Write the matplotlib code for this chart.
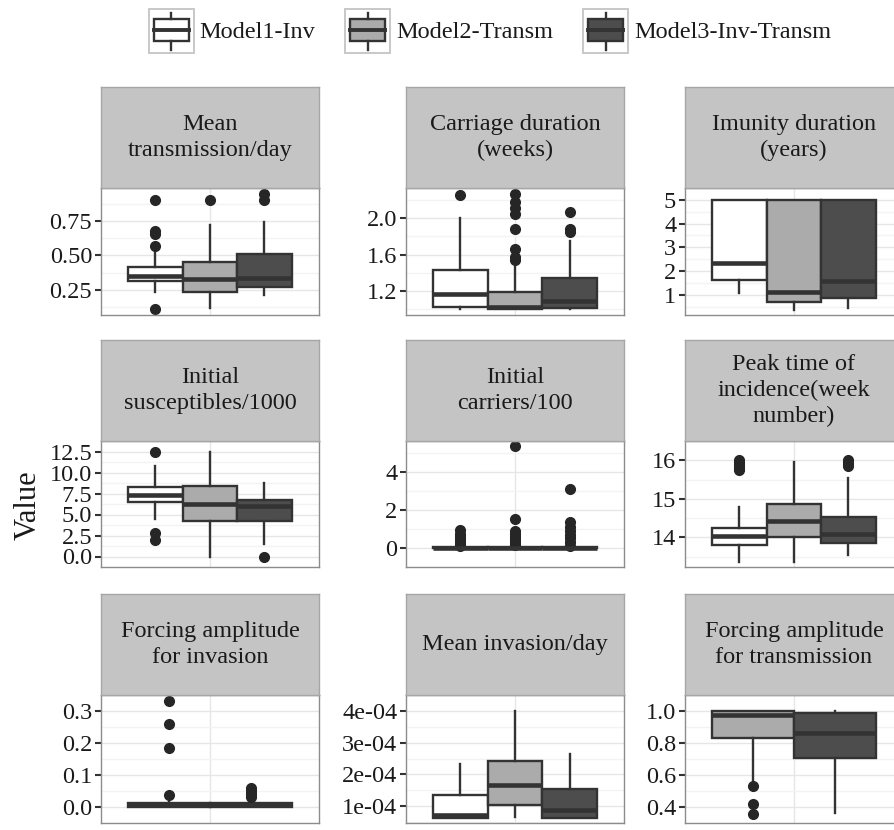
import matplotlib
matplotlib.use("Agg")
import numpy as np
import matplotlib.pyplot as plt
from matplotlib.patches import Rectangle, Patch
from matplotlib.lines import Line2D
from matplotlib.legend_handler import HandlerBase

plt.rcParams['font.family'] = ['Liberation Serif', 'DejaVu Serif']

models = ["Model1-Inv", "Model2-Transm", "Model3-Inv-Transm"]
fills = ["#FFFFFF", "#ABABAB", "#4D4D4D"]

titles = ["Mean\ntransmission/day", "Carriage duration\n(weeks)", "Imunity duration\n(years)",
          "Initial\nsusceptibles/1000", "Initial\ncarriers/100", "Peak time of\nincidence(week\nnumber)",
          "Forcing amplitude\nfor invasion", "Mean invasion/day", "Forcing amplitude\nfor transmission"]

# one row per model shown: whisker low, q1, median, q3, whisker high
trans_box = [[0.234, 0.312, 0.352, 0.416, 0.53],
             [0.119, 0.234, 0.329, 0.452, 0.721],
             [0.214, 0.274, 0.336, 0.512, 0.745]]
trans_out = [[0.109, 0.57, 0.655, 0.675, 0.90], [0.905], [0.905, 0.948]]

carr_box = [[1.0, 1.022, 1.171, 1.430, 2.006],
            [1.0, 1.004, 1.02, 1.193, 1.467],
            [1.0, 1.011, 1.086, 1.342, 1.751]]
carr_out = [[2.249], [1.545, 1.573, 1.662, 1.875, 2.043, 2.113, 2.174, 2.267], [1.85, 1.875, 2.071]]

imm_box = [[1.08, 1.63, 2.36, 5.0, 5.0],
           [0.38, 0.71, 1.10, 5.0, 5.0],
           [0.45, 0.87, 1.57, 5.0, 5.0]]
imm_out = [[], [], []]

sus_box = [[4.42, 6.48, 7.36, 8.32, 10.8],
           [0.0, 4.25, 6.30, 8.43, 12.43],
           [1.52, 4.25, 6.02, 6.76, 8.78]]
sus_out = [[1.94, 2.76, 12.43], [], [0.0]]

carriers_box = [[0.0, 0.0, 0.0, 0.04, 0.08],
                [0.0, 0.0, 0.0, 0.04, 0.08],
                [0.0, 0.0, 0.0, 0.04, 0.08]]
carriers_out = [[0.12, 0.22, 0.33, 0.45, 0.6, 0.75, 0.92],
                [0.15, 0.3, 0.45, 0.6, 0.75, 0.9, 1.53, 5.35],
                [0.12, 0.3, 0.5, 0.7, 0.9, 1.1, 1.36, 3.1]]

peak_box = [[13.36, 13.79, 14.04, 14.24, 14.79],
            [13.36, 14.02, 14.42, 14.86, 15.96],
            [13.55, 13.84, 14.08, 14.53, 15.55]]
peak_out = [[15.75, 15.8, 15.85, 15.9, 15.95, 16.0], [], [15.85, 15.9, 15.95, 16.0]]

finv_box = [[0.0, 0.001, 0.005, 0.012, 0.022],
            [0.0, 0.001, 0.006, 0.013, 0.025]]
finv_out = [[0.038, 0.185, 0.258, 0.331], [0.031, 0.038, 0.045, 0.052, 0.059]]

minv_box = [[0.64e-4, 0.64e-4, 0.73e-4, 1.36e-4, 2.34e-4],
            [0.67e-4, 1.04e-4, 1.66e-4, 2.42e-4, 4.0e-4],
            [0.64e-4, 0.64e-4, 0.88e-4, 1.53e-4, 2.64e-4]]
minv_out = [[], [], []]

ftr_box = [[0.56, 0.831, 0.975, 1.0, 1.0],
           [0.36, 0.704, 0.86, 0.985, 1.0]]
ftr_out = [[0.357, 0.419, 0.532], []]

# which models appear in each panel
all_models = [0, 1, 2]
inv_models = [0, 2]
tr_models = [1, 2]

trans_ticks, trans_labels = [0.25, 0.50, 0.75], ["0.25", "0.50", "0.75"]
carr_ticks, carr_labels = [1.2, 1.6, 2.0], ["1.2", "1.6", "2.0"]
imm_ticks, imm_labels = [1, 2, 3, 4, 5], ["1", "2", "3", "4", "5"]
sus_ticks, sus_labels = [0, 2.5, 5, 7.5, 10, 12.5], ["0.0", "2.5", "5.0", "7.5", "10.0", "12.5"]
carriers_ticks, carriers_labels = [0, 2, 4], ["0", "2", "4"]
peak_ticks, peak_labels = [14, 15, 16], ["14", "15", "16"]
finv_ticks, finv_labels = [0, 0.1, 0.2, 0.3], ["0.0", "0.1", "0.2", "0.3"]
minv_ticks, minv_labels = [1e-4, 2e-4, 3e-4, 4e-4], ["1e-04", "2e-04", "3e-04", "4e-04"]
ftr_ticks, ftr_labels = [0.4, 0.6, 0.8, 1.0], ["0.4", "0.6", "0.8", "1.0"]

panels = [
    (trans_box, trans_out, all_models, trans_ticks, trans_labels),
    (carr_box, carr_out, all_models, carr_ticks, carr_labels),
    (imm_box, imm_out, all_models, imm_ticks, imm_labels),
    (sus_box, sus_out, all_models, sus_ticks, sus_labels),
    (carriers_box, carriers_out, all_models, carriers_ticks, carriers_labels),
    (peak_box, peak_out, all_models, peak_ticks, peak_labels),
    (finv_box, finv_out, inv_models, finv_ticks, finv_labels),
    (minv_box, minv_out, all_models, minv_ticks, minv_labels),
    (ftr_box, ftr_out, tr_models, ftr_ticks, ftr_labels),
]

LINE = "#333333"
TXT = "#1A1A1A"
W, H = 895, 830
col_left = [101, 406, 685]
col_w = 218
strip_top = [87, 340, 594]
strip_h = 101
panel_bottom = [315, 567, 823]


class BoxKey(HandlerBase):
    """legend key drawn like ggplot's boxplot glyph"""
    def create_artists(self, legend, orig_handle, xdescent, ydescent, width, height, fontsize, trans):
        x0, y0 = -xdescent, -ydescent
        fill = orig_handle.get_facecolor()
        frame = Rectangle((x0, y0), width, height, facecolor="white", edgecolor="#C8C8C8", lw=1.4, transform=trans)
        box = Rectangle((x0 + 0.11 * width, y0 + 0.27 * height), 0.78 * width, 0.49 * height,
                        facecolor=fill, edgecolor=LINE, lw=1.7, transform=trans)
        med = Line2D([x0 + 0.11 * width, x0 + 0.89 * width], [y0 + 0.52 * height] * 2, color=LINE, lw=2.8,
                     transform=trans)
        top = Line2D([x0 + 0.5 * width] * 2, [y0 + 0.76 * height, y0 + 0.89 * height], color=LINE, lw=1.7,
                     transform=trans)
        bot = Line2D([x0 + 0.5 * width] * 2, [y0 + 0.07 * height, y0 + 0.27 * height], color=LINE, lw=1.7,
                     transform=trans)
        return [frame, box, med, top, bot]


fig = plt.figure(figsize=(W / 100, H / 100), dpi=100)

for i, (box, out, idx, ticks, labels) in enumerate(panels):
    r, c = divmod(i, 3)
    left = col_left[c] / W
    width = col_w / W
    p_top = strip_top[r] + strip_h
    ax = fig.add_axes([left, 1 - panel_bottom[r] / H, width, (panel_bottom[r] - p_top) / H])
    st = fig.add_axes([left, 1 - p_top / H, width, strip_h / H])

    n = len(idx)
    bw = 0.9 / n
    positions = [0.55 + bw * (k + 0.5) for k in range(n)]
    stats = []
    for row, fl in zip(box, out):
        stats.append(dict(whislo=row[0], q1=row[1], med=row[2], q3=row[3], whishi=row[4], fliers=fl))
    bp = ax.bxp(stats, positions=positions, widths=bw, patch_artist=True, showcaps=False,
                boxprops=dict(edgecolor=LINE, linewidth=1.7),
                medianprops=dict(color=LINE, linewidth=3.3, solid_capstyle="butt"),
                whiskerprops=dict(color=LINE, linewidth=1.7),
                flierprops=dict(marker="o", markerfacecolor="#262626", markeredgecolor="#262626", markersize=7))
    for patch, m in zip(bp["boxes"], idx):
        patch.set_facecolor(fills[m])

    # ggplot style 5% expansion of the data range
    vals = [v for row in box for v in row] + [v for fl in out for v in fl]
    lo, hi = min(vals), max(vals)
    pad = 0.05 * (hi - lo)
    ax.set_ylim(lo - pad, hi + pad)
    ax.set_xlim(0.4, 1.6)

    step = ticks[1] - ticks[0]
    minor = np.arange(ticks[0] - step / 2, ticks[-1] + step, step)
    ax.set_yticks(ticks)
    ax.set_yticklabels(labels)
    ax.set_yticks(minor, minor=True)
    ax.set_xticks([1])
    ax.set_xticklabels([])
    ax.set_axisbelow(True)
    ax.grid(which="major", color="#E6E6E6", lw=1.0)
    ax.grid(which="minor", axis="y", color="#F3F3F3", lw=1.0)
    ax.tick_params(axis="y", which="major", length=4.3, width=1.5, color=LINE, labelsize=17.5, pad=2,
                   labelcolor=TXT)
    ax.tick_params(axis="y", which="minor", length=0)
    ax.tick_params(axis="x", length=0)
    for s in ax.spines.values():
        s.set_color("#8C8C8C")
        s.set_linewidth(1.0)

    st.set_facecolor("#C4C4C4")
    st.set_xticks([])
    st.set_yticks([])
    for s in st.spines.values():
        s.set_color("#A6A6A6")
        s.set_linewidth(1.0)
    st.text(0.5, 0.5, titles[i], ha="center", va="center", fontsize=17.5, linespacing=1.32,
            color=TXT, transform=st.transAxes)

fig.text(28 / W, 1 - 505 / H, "Value", rotation=90, ha="center", va="center", fontsize=22, color=TXT)

handles = [Patch(facecolor=f) for f in fills]
fig.legend(handles, models, loc="center", bbox_to_anchor=(490 / W, 1 - 31 / H), ncol=3, frameon=False,
           handler_map={Patch: BoxKey()}, handlelength=1.85, handleheight=2.47, handletextpad=0.25,
           columnspacing=1.23, fontsize=17.5, labelcolor=TXT)

fig.savefig("out.png", dpi=100)
